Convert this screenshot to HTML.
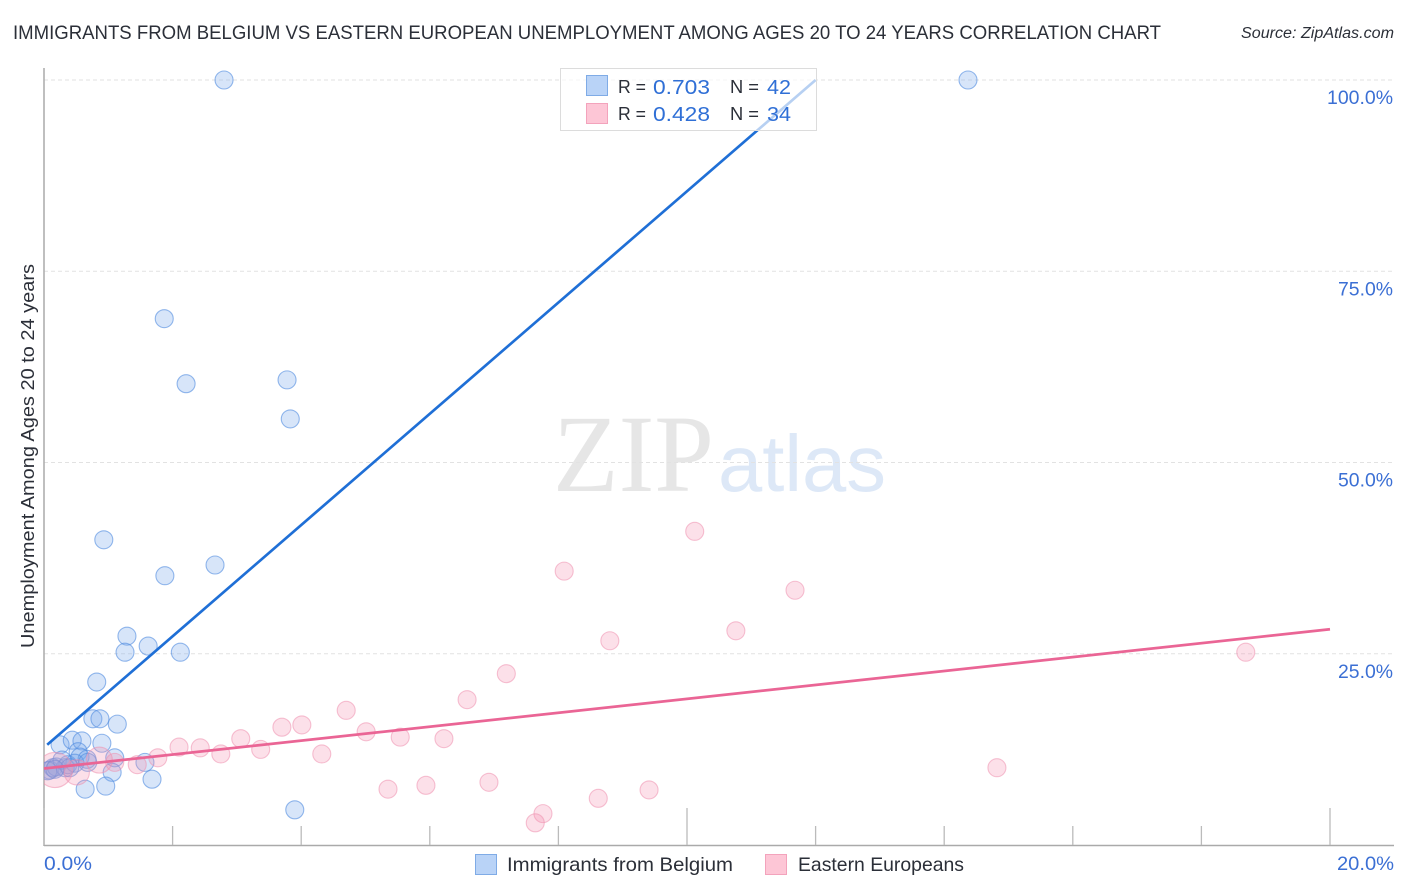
<!DOCTYPE html>
<html>
<head>
<meta charset="utf-8">
<title>Immigrants from Belgium vs Eastern European Unemployment Correlation Chart</title>
<style>
html,body{margin:0;padding:0;background:#fff;width:1406px;height:892px;overflow:hidden}
svg{display:block}
text{font-family:"Liberation Sans",sans-serif}
</style>
</head>
<body>
<svg id="chart" width="1406" height="892" viewBox="0 0 1406 892" xmlns="http://www.w3.org/2000/svg">
  <defs>
    <clipPath id="plot-clip"><rect x="44" y="60" width="1350" height="785"/></clipPath>
  </defs>
  <text x="13" y="39" font-size="19.5" fill="#2b2f38" textLength="1148" lengthAdjust="spacingAndGlyphs">IMMIGRANTS FROM BELGIUM VS EASTERN EUROPEAN UNEMPLOYMENT AMONG AGES 20 TO 24 YEARS CORRELATION CHART</text>
  <text x="1241" y="38" font-size="15.5" font-style="italic" fill="#2b2f38" textLength="153" lengthAdjust="spacingAndGlyphs">Source: ZipAtlas.com</text>

  <g>
    <text x="553" y="491" style="font-family:'Liberation Serif',serif" font-size="110" fill="#e6e6e6" textLength="161" lengthAdjust="spacingAndGlyphs">ZIP</text>
    <text x="718" y="491" font-size="80" fill="#dde8f7" textLength="168" lengthAdjust="spacingAndGlyphs">atlas</text>
  </g>

  <g id="grid"></g>
  <g id="axes"></g>
  <g id="ylabels"></g>
  <g id="blue-points" clip-path="url(#plot-clip)"></g>
  <g id="pink-points" clip-path="url(#plot-clip)"></g>
  <g id="trends"></g>

  <text transform="translate(34,456) rotate(-90)" text-anchor="middle" font-size="18.5" fill="#2b2f38" textLength="384" lengthAdjust="spacingAndGlyphs">Unemployment Among Ages 20 to 24 years</text>
  <text x="44" y="870" font-size="19.5" fill="#3b6fd4" textLength="48" lengthAdjust="spacingAndGlyphs">0.0%</text>
  <text x="1337" y="870" font-size="19.5" fill="#3b6fd4" textLength="57" lengthAdjust="spacingAndGlyphs">20.0%</text>

  <g>
    <rect x="560.5" y="68.5" width="256" height="62" fill="#fff" fill-opacity="0.68" stroke="#dcdcdc" stroke-width="1"/>
    <rect x="586.5" y="75.5" width="21" height="20" fill="#b9d3f7" stroke="#7fabe6"/>
    <rect x="586.5" y="103.5" width="21" height="20" fill="#fdc6d6" stroke="#f3a3bc"/>
    <text x="618" y="93" font-size="18" fill="#2b2f38" textLength="28" lengthAdjust="spacingAndGlyphs">R =</text>
    <text x="653" y="94" font-size="20.5" fill="#2f6fd6" textLength="57" lengthAdjust="spacingAndGlyphs">0.703</text>
    <text x="730" y="93" font-size="18" fill="#2b2f38" textLength="29" lengthAdjust="spacingAndGlyphs">N =</text>
    <text x="767" y="94" font-size="20.5" fill="#2f6fd6" textLength="24" lengthAdjust="spacingAndGlyphs">42</text>
    <text x="618" y="120" font-size="18" fill="#2b2f38" textLength="28" lengthAdjust="spacingAndGlyphs">R =</text>
    <text x="653" y="121" font-size="20.5" fill="#2f6fd6" textLength="57" lengthAdjust="spacingAndGlyphs">0.428</text>
    <text x="730" y="120" font-size="18" fill="#2b2f38" textLength="29" lengthAdjust="spacingAndGlyphs">N =</text>
    <text x="767" y="121" font-size="20.5" fill="#2f6fd6" textLength="24" lengthAdjust="spacingAndGlyphs">34</text>
  </g>

  <g>
    <rect x="475.5" y="854.5" width="21" height="20" fill="#b9d3f7" stroke="#7fabe6"/>
    <text x="507" y="871" font-size="19.5" fill="#2b2f38" textLength="226" lengthAdjust="spacingAndGlyphs">Immigrants from Belgium</text>
    <rect x="765.5" y="854.5" width="21" height="20" fill="#fdc6d6" stroke="#f3a3bc"/>
    <text x="798" y="871" font-size="19.5" fill="#2b2f38" textLength="166" lengthAdjust="spacingAndGlyphs">Eastern Europeans</text>
  </g>
</svg>
<script>
const yTickValues = [100, 75, 50, 25];
const yTickLabels = ["100.0%", "75.0%", "50.0%", "25.0%"];
const xTickValues = [0, 2, 4, 6, 8, 10, 12, 14, 16, 18, 20];
const xMajorTicks = [0, 10, 20];

const belgiumX = [2.80,14.37,1.87,2.21,3.78,3.83,0.93,1.88,2.66,1.29,1.26,1.62,2.12,0.82,0.76,0.87,1.14,0.25,0.44,0.59,0.90,0.53,0.56,0.67,1.10,1.57,1.06,1.68,0.64,0.96,3.90,0.09,0.14,0.19,0.33,0.37,0.48,0.68,0.28,0.06,0.40,0.17];
const belgiumY = [100,100,68.8,60.3,60.8,55.7,39.9,35.2,36.6,27.3,25.2,26.0,25.2,21.3,16.5,16.5,15.8,13.1,13.7,13.6,13.3,12.2,11.5,11.2,11.4,10.8,9.5,8.6,7.3,7.7,4.6,9.8,10.1,10.2,10.1,10.5,10.7,10.8,11.1,9.7,10.1,9.9];

const easternX = [10.12,8.09,11.68,10.76,8.80,18.69,7.19,6.58,4.70,4.01,3.70,3.06,2.10,2.43,2.75,3.37,4.32,5.01,5.54,6.22,1.77,1.45,1.10,14.82,5.35,5.94,6.92,8.62,9.41,7.76,7.64,0.86,0.17,0.51];
const easternY = [41.0,35.8,33.3,28.0,26.7,25.2,22.4,19.0,17.6,15.7,15.4,13.9,12.8,12.7,11.9,12.5,11.9,14.8,14.1,13.9,11.4,10.5,10.8,10.1,7.3,7.8,8.2,6.1,7.2,4.1,2.9,11.1,9.8,9.5];
const easternWeight = [1,1,1,1,1,1,1,1,1,1,1,1,1,1,1,1,1,1,1,1,1,1,1,1,1,1,1,1,1,1,1,1.45,1.95,1.4];

const belgiumTrendX = [0.05, 12];
const belgiumTrendY = [13.1, 100];
const easternTrendX = [0, 20];
const easternTrendY = [10.0, 28.2];

const NS = "http://www.w3.org/2000/svg";
const xScale = v => 44 + v * 64.3;
const yScale = v => 845 - v * 7.65;

function make(tag, attrs, parentId) {
  const el = document.createElementNS(NS, tag);
  for (const k in attrs) el.setAttribute(k, attrs[k]);
  document.getElementById(parentId).appendChild(el);
  return el;
}

yTickValues.forEach((v, i) => {
  const line = make("line", {x1: 44, x2: 1394, y1: yScale(v), y2: yScale(v), stroke: "#e2e2e2", "stroke-width": 1, "stroke-dasharray": "4 3"}, "grid");
  
  
  const label = make("text", {x: 1393, y: yScale(v) + 24, "text-anchor": "end", "font-size": 19.5, fill: "#3b6fd4", textLength: i === 0 ? 66 : 55, lengthAdjust: "spacingAndGlyphs"}, "ylabels");
  label.textContent = yTickLabels[i];
  
  
});

const yAxis = make("line", {x1: 44, x2: 44, y1: 68, y2: 846, stroke: "#aaaaaa", "stroke-width": 1.5}, "axes");


const xAxis = make("line", {x1: 44, x2: 1394, y1: 845.5, y2: 845.5, stroke: "#aaaaaa", "stroke-width": 1.5}, "axes");


xTickValues.forEach(v => {
  const top = xMajorTicks.includes(v) ? 808 : 826;
  const tick = make("line", {x1: xScale(v), x2: xScale(v), y1: top, y2: 845, stroke: "#bbbbbb", "stroke-width": 1.3}, "axes");
  
  
});

belgiumX.forEach((v, i) => {
  const c = make("circle", {cx: xScale(v), cy: yScale(belgiumY[i]), r: 9, fill: "#7aa9ea", "fill-opacity": 0.3, stroke: "#4f8ae0", "stroke-opacity": 0.6, "stroke-width": 1.1}, "blue-points");
  
  
});

easternX.forEach((v, i) => {
  const c = make("circle", {cx: xScale(v), cy: yScale(easternY[i]), r: 9 * easternWeight[i], fill: "#f58fb0", "fill-opacity": 0.28, stroke: "#ee8fae", "stroke-opacity": 0.55, "stroke-width": 1.1}, "pink-points");
  
  
});

const blueLine = make("line", {x1: xScale(belgiumTrendX[0]), y1: yScale(belgiumTrendY[0]), x2: xScale(belgiumTrendX[1]), y2: yScale(belgiumTrendY[1]), stroke: "#1f6fd6", "stroke-width": 2.7}, "trends");


const pinkLine = make("line", {x1: xScale(easternTrendX[0]), y1: yScale(easternTrendY[0]), x2: xScale(easternTrendX[1]), y2: yScale(easternTrendY[1]), stroke: "#ea6595", "stroke-width": 2.7}, "trends");


</script>
</body>
</html>
